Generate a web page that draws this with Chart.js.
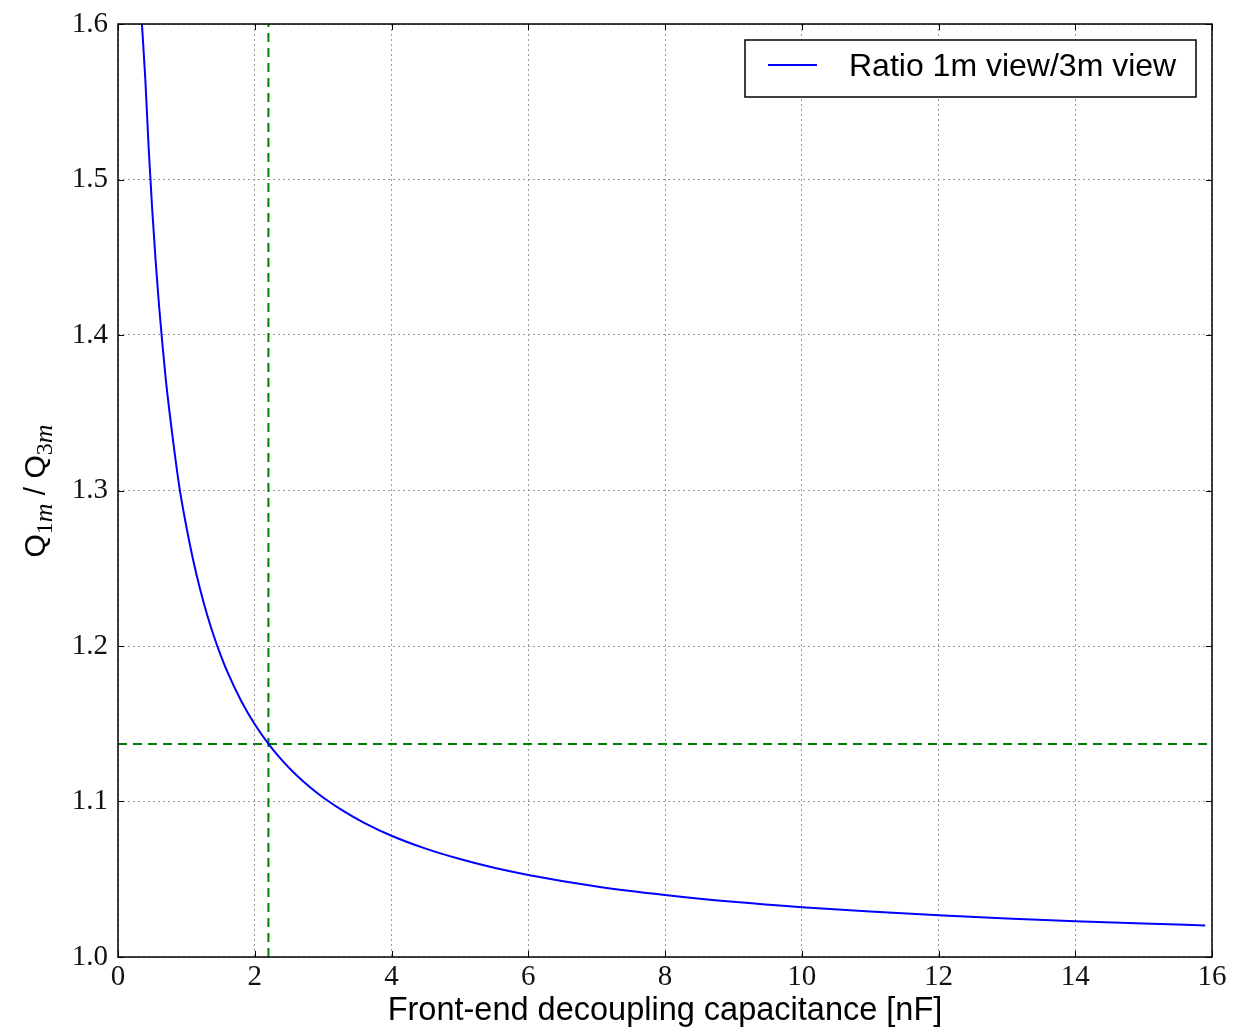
<!DOCTYPE html>
<html>
<head>
<meta charset="utf-8">
<script src="https://cdn.jsdelivr.net/npm/chart.js@4.4.1/dist/chart.umd.min.js"></script>
<style>
  html, body { margin: 0; padding: 0; background: #fff; }
  #wrap { width: 1242px; height: 1031px; }
</style>
</head>
<body>
<div id="wrap"><canvas id="c" width="1242" height="1031"></canvas></div>
<script>
// ---- data ----
const capacitance = [0.35, 0.40, 0.45, 0.50, 0.55, 0.60, 0.65, 0.70, 0.80, 0.90, 1.00, 1.10, 1.20, 1.30, 1.40, 1.50, 1.60, 1.80, 2.00, 2.20, 2.40, 2.60, 2.80, 3.00, 3.30, 3.60, 4.00, 4.50, 5.00, 5.50, 6.00, 7.00, 8.00, 9.00, 10.0, 11.0, 12.0, 13.0, 14.0, 15.0, 15.9];
const ratio       = [1.6000, 1.5640, 1.5190, 1.4810, 1.4480, 1.4190, 1.3940, 1.3710, 1.3340, 1.3015, 1.2767, 1.2551, 1.2366, 1.2206, 1.2066, 1.1943, 1.1833, 1.1648, 1.1497, 1.1371, 1.1265, 1.1174, 1.1095, 1.1026, 1.0938, 1.0863, 1.0780, 1.0697, 1.0630, 1.0574, 1.0528, 1.0454, 1.0399, 1.0355, 1.0320, 1.0292, 1.0268, 1.0247, 1.0230, 1.0215, 1.0203];
const markerX = [2.2];
const markerY = [1.137];
const xRange = [0, 16];
const yRange = [1.0, 1.6];
const xTickStep = 2;
const yTickStep = 0.1;
const seriesLabel = 'Ratio 1m view/3m view';
const xTitle = 'Front-end decoupling capacitance [nF]';

const curve = capacitance.map((x, i) => ({ x: x, y: ratio[i] }));
const vLine = [{ x: markerX[0], y: yRange[0] }, { x: markerX[0], y: yRange[1] }];
const hLine = [{ x: xRange[0], y: markerY[0] }, { x: xRange[1], y: markerY[0] }];

const SERIF = '"Liberation Serif", "DejaVu Serif", serif';
const SANS = '"Liberation Sans", Arial, sans-serif';

const framePlugin = {
  id: 'frame',
  afterDatasetsDraw(chart) {
    const { ctx, chartArea: a, scales } = chart;
    ctx.save();
    // inner ticks
    ctx.strokeStyle = '#000';
    ctx.lineWidth = 1;
    const tl = 6;
    scales.x.ticks.forEach(t => {
      const px = Math.round(scales.x.getPixelForValue(t.value)) + 0.5;
      ctx.beginPath();
      ctx.moveTo(px, a.bottom); ctx.lineTo(px, a.bottom - tl);
      ctx.moveTo(px, a.top); ctx.lineTo(px, a.top + tl);
      ctx.stroke();
    });
    scales.y.ticks.forEach(t => {
      const py = Math.round(scales.y.getPixelForValue(t.value)) + 0.5;
      ctx.beginPath();
      ctx.moveTo(a.left, py); ctx.lineTo(a.left + tl, py);
      ctx.moveTo(a.right, py); ctx.lineTo(a.right - tl, py);
      ctx.stroke();
    });
    // frame
    ctx.lineWidth = 1.5;
    ctx.strokeRect(a.left, a.top, a.right - a.left, a.bottom - a.top);

    // legend box
    const bx = 745, by = 40, bw = 451, bh = 57;
    ctx.fillStyle = '#fff';
    ctx.fillRect(bx, by, bw, bh);
    ctx.lineWidth = 1.5;
    ctx.strokeStyle = '#000';
    ctx.strokeRect(bx, by, bw, bh);
    ctx.strokeStyle = '#0000ff';
    ctx.lineWidth = 2;
    ctx.beginPath();
    ctx.moveTo(768, by + 25); ctx.lineTo(817, by + 25);
    ctx.stroke();
    ctx.fillStyle = '#000';
    ctx.font = '32px ' + SANS;
    ctx.textBaseline = 'alphabetic';
    ctx.textAlign = 'left';
    ctx.fillText(seriesLabel, 849, by + 36);

    // y axis title with subscripts
    ctx.translate(45, 491);
    ctx.rotate(-Math.PI / 2);
    const parts = [
      { t: 'Q', f: '30px ' + SANS, dy: 0 },
      { t: '1', f: '24px ' + SERIF, dy: 7 },
      { t: 'm', f: 'italic 26px ' + SERIF, dy: 7 },
      { t: ' / ', f: '30px ' + SANS, dy: 0 },
      { t: 'Q', f: '30px ' + SANS, dy: 0 },
      { t: '3', f: '24px ' + SERIF, dy: 7 },
      { t: 'm', f: 'italic 26px ' + SERIF, dy: 7 }
    ];
    let total = 0;
    parts.forEach(p => { ctx.font = p.f; p.w = ctx.measureText(p.t).width; total += p.w; });
    let x0 = -total / 2;
    parts.forEach(p => { ctx.font = p.f; ctx.fillText(p.t, x0, p.dy); x0 += p.w; });
    ctx.restore();
  }
};

const chart = new Chart(document.getElementById('c'), {
  type: 'line',
  data: {
    datasets: [
      { label: seriesLabel, data: curve, borderColor: '#0000ff', borderWidth: 2, pointRadius: 0, cubicInterpolationMode: 'monotone', fill: false },
      { label: 'vline', data: vLine, borderColor: '#008000', borderWidth: 2, borderDash: [9, 6], pointRadius: 0, fill: false },
      { label: 'hline', data: hLine, borderColor: '#008000', borderWidth: 2, borderDash: [9, 6], pointRadius: 0, fill: false }
    ]
  },
  options: {
    responsive: false,
    animation: false,
    layout: { padding: { left: 0, right: 30, top: 24, bottom: 0 } },
    plugins: { legend: { display: false }, tooltip: { enabled: false } },
    scales: {
      x: {
        type: 'linear', min: xRange[0], max: xRange[1],
        afterFit(s) { s.height = 74; s.paddingLeft = 0; s.paddingRight = 0; },
        ticks: { stepSize: xTickStep, padding: 3, color: '#111', font: { family: SERIF, size: 29 }, maxRotation: 0 },
        grid: { color: '#999', lineWidth: 1, drawTicks: false },
        border: { display: false, dash: [2, 3] },
        title: { display: true, text: xTitle, color: '#000', font: { family: SANS, size: 32.5 }, padding: 0 }
      },
      y: {
        type: 'linear', min: yRange[0], max: yRange[1],
        afterFit(s) { s.width = 118; s.paddingTop = 0; s.paddingBottom = 0; },
        ticks: { stepSize: yTickStep, padding: 10, color: '#111', font: { family: SERIF, size: 29 }, callback: v => Number(v).toFixed(1) },
        grid: { color: '#999', lineWidth: 1, drawTicks: false },
        border: { display: false, dash: [2, 3] }
      }
    }
  },
  plugins: [framePlugin]
});
</script>
</body>
</html>
